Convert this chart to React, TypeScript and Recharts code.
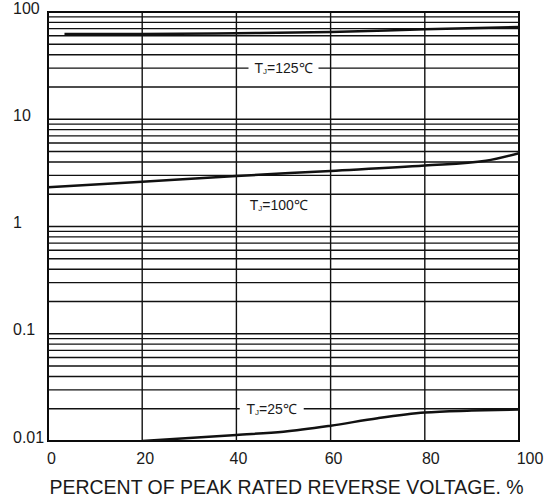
import React from 'react';
import {
  LineChart,
  Line,
  XAxis,
  YAxis,
  ReferenceLine,
  ReferenceArea,
  ReferenceDot,
} from 'recharts';

// percent of peak rated reverse voltage (x) and reverse current (y), per junction temp
const VOLT_125 = [3.5, 20, 40, 60, 80, 100];
const IR_125 = [62.5, 62.5, 63.5, 65, 69, 72.5];

const VOLT_100 = [0, 20, 40, 60, 80, 93, 100];
const IR_100 = [2.32, 2.62, 2.96, 3.3, 3.7, 4.1, 4.82];

const VOLT_25 = [20, 40, 50, 60, 70, 80, 90, 100];
const IR_25 = [0.01, 0.0114, 0.0122, 0.0139, 0.0163, 0.0184, 0.0192, 0.0197];

const X_TICKS = [0, 20, 40, 60, 80, 100];
const Y_TICKS = [0.01, 0.1, 1, 10, 100];
const Y_LABELS = ['0.01', '0.1', '1', '10', '100'];
const MINOR_STEPS = [2, 3, 4, 5, 6, 7, 8, 9];

const TEMP_LABELS = ['125℃', '100℃', '25℃'];

const FONT = '"Liberation Sans", Arial, sans-serif';
// the scanned labels sit a bit right of their grid lines
const X_LABEL_NUDGE = [3.5, 3, 2, 3, 6, 11];

const toRows = (xs: number[], ys: number[]) => xs.map((v, i) => ({ v, ir: ys[i] }));

const data125 = toRows(VOLT_125, IR_125);
const data100 = toRows(VOLT_100, IR_100);
const data25 = toRows(VOLT_25, IR_25);

// every decade gets lines at 2..9 too
const gridValues: number[] = [];
Y_TICKS.forEach((d, i) => {
  gridValues.push(d);
  if (i < Y_TICKS.length - 1) MINOR_STEPS.forEach((m) => gridValues.push(d * m));
});

const XTick = (props: any) => {
  const { x, y, payload, index } = props;
  return (
    <text x={x + (X_LABEL_NUDGE[index] || 0)} y={y + 9} textAnchor="middle"
      dominantBaseline="central" fontSize={16} fontFamily={FONT} fill="#1a1a1a">
      {payload.value}
    </text>
  );
};

const YTick = (props: any) => {
  const { y, index } = props;
  return (
    <text x={13} y={y - 4} textAnchor="start" dominantBaseline="central"
      fontSize={16} fontFamily={FONT} fill="#1a1a1a">
      {Y_LABELS[index]}
    </text>
  );
};

const TempLabel = ({ cx, cy, text, w, bg }: any) => (
  <g>
    {bg && <rect x={cx - w / 2} y={cy - 8} width={w} height={16} fill="#fff" />}
    <text x={cx} y={cy} textAnchor="middle" dominantBaseline="central"
      fontSize={14} fontFamily={FONT} fill="#1a1a1a">
      T<tspan fontSize={8} dy={3}>J</tspan><tspan dy={-3}>={text}</tspan>
    </text>
  </g>
);

export default function App() {
  return (
    <div style={{ position: 'absolute', left: 0, top: 0, background: '#fff' }}>
      <LineChart width={553} height={500}
        margin={{ top: 12, right: 34, bottom: 0, left: 0 }}>
        <XAxis type="number" dataKey="v" domain={[0, 100]} ticks={X_TICKS}
          axisLine={false} tickLine={false} height={59} tick={<XTick />}
          interval={0} allowDataOverflow />
        <YAxis type="number" scale="log" domain={[0.01, 100]} ticks={Y_TICKS}
          axisLine={false} tickLine={false} width={48} tick={<YTick />}
          interval={0} allowDataOverflow />

        {gridValues.map((g) => (
          <ReferenceLine key={`h-${g}`} y={g} stroke="#111" strokeWidth={1.4} />
        ))}
        {X_TICKS.map((t) => (
          <ReferenceLine key={`v-${t}`} x={t} stroke="#111" strokeWidth={1.4} />
        ))}
        <ReferenceArea x1={0} x2={100} y1={0.01} y2={100}
          fill="none" fillOpacity={0} stroke="#000" strokeWidth={2} />

        <Line data={data125} dataKey="ir" type="monotone" stroke="#111"
          strokeWidth={2.5} dot={false} isAnimationActive={false} />
        <Line data={data100} dataKey="ir" type="monotone" stroke="#111"
          strokeWidth={2.5} dot={false} isAnimationActive={false} />
        <Line data={data25} dataKey="ir" type="monotone" stroke="#111"
          strokeWidth={2.5} dot={false} isAnimationActive={false} />

        <ReferenceDot x={50} y={30} r={0}
          shape={(p: any) => <TempLabel cx={p.cx} cy={p.cy} text={TEMP_LABELS[0]} w={70} bg />} />
        <ReferenceDot x={49} y={1.6} r={0}
          shape={(p: any) => <TempLabel cx={p.cx} cy={p.cy} text={TEMP_LABELS[1]} w={64} bg={false} />} />
        <ReferenceDot x={47.5} y={0.02} r={0}
          shape={(p: any) => <TempLabel cx={p.cx} cy={p.cy} text={TEMP_LABELS[2]} w={64} bg />} />
      </LineChart>
      <div style={{
        position: 'absolute', left: 0, top: 476, width: 573, textAlign: 'center',
        fontFamily: FONT, fontSize: 19.5, color: '#1a1a1a', whiteSpace: 'nowrap',
      }}>
        PERCENT OF PEAK RATED REVERSE VOLTAGE. %
      </div>
    </div>
  );
}
